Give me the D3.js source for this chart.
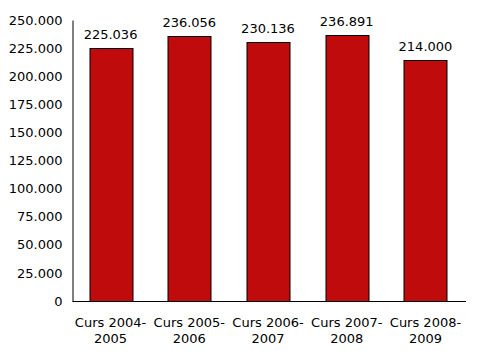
<!DOCTYPE html>
<html>
<head>
<meta charset="utf-8">
<script src="https://cdn.jsdelivr.net/npm/d3@7"></script>
<style>
  body { margin: 0; background: #fff; }
  text { font-family: "DejaVu Sans", Verdana, sans-serif; font-size: 13px; fill: #000; }
</style>
</head>
<body>
<svg id="chart"></svg>
<script>
// chart data
const categories = [['Curs 2004-', '2005'], ['Curs 2005-', '2006'], ['Curs 2006-', '2007'], ['Curs 2007-', '2008'], ['Curs 2008-', '2009']];
const values = [225036, 236056, 230136, 236891, 214000];
const yTicks = [0, 25000, 50000, 75000, 100000, 125000, 150000, 175000, 200000, 225000, 250000];

const width = 493, height = 351;
const margin = {top: 20, right: 27, bottom: 50, left: 72.5};
const innerW = width - margin.left - margin.right;
const innerH = height - margin.top - margin.bottom;

const locale = d3.formatLocale({decimal: ',', thousands: '.', grouping: [3], currency: ['', '']});
const fmt = locale.format(',.0f');

const svg = d3.select('#chart')
    .attr('width', width)
    .attr('height', height);

const chart = svg.append('g')
    .attr('transform', `translate(${margin.left},${margin.top})`);

// bands end a little short of the axis end, like the original
const xScale = d3.scaleBand()
    .domain(d3.range(values.length))
    .range([0, 391])
    .paddingInner(0.454)
    .paddingOuter(0.21);

const yScale = d3.scaleLinear()
    .domain([0, 250000])
    .range([innerH, 0]);

// bars
chart.selectAll('.bar')
    .data(values)
  .join('rect')
    .attr('class', 'bar')
    .attr('x', (d, i) => Math.round(xScale(i)) + 0.5)
    .attr('y', d => Math.round(yScale(d)) + 0.5)
    .attr('width', Math.round(xScale.bandwidth()))
    .attr('height', d => innerH - Math.round(yScale(d)))
    .attr('fill', '#bf0b0b')
    .attr('stroke', '#000')
    .attr('stroke-width', 1);

// value labels
chart.selectAll('.val')
    .data(values)
  .join('text')
    .attr('class', 'val')
    .attr('x', (d, i) => xScale(i) + xScale.bandwidth() / 2)
    .attr('y', d => yScale(d) - 9)
    .attr('text-anchor', 'middle')
    .text(d => fmt(d));

// y axis
const yAxis = d3.axisLeft(yScale)
    .tickValues(yTicks)
    .tickSize(0)
    .tickPadding(10)
    .tickFormat(d => fmt(d));

const yAxisG = chart.append('g').call(yAxis);
yAxisG.select('.domain').attr('stroke', '#000');
yAxisG.selectAll('text')
    .style('font-family', '"DejaVu Sans", Verdana, sans-serif')
    .style('font-size', '13px')
    .attr('fill', '#000');

// x axis line
chart.append('line')
    .attr('x1', 0)
    .attr('x2', innerW)
    .attr('y1', innerH + 0.5)
    .attr('y2', innerH + 0.5)
    .attr('stroke', '#000');

// x labels (two lines)
const xl = chart.selectAll('.xlab')
    .data(categories)
  .join('text')
    .attr('class', 'xlab')
    .attr('text-anchor', 'middle')
    .attr('transform', (d, i) => `translate(${xScale(i) + xScale.bandwidth() / 2},${innerH + 25.5})`);

xl.selectAll('tspan')
    .data(d => d)
  .join('tspan')
    .attr('x', 0)
    .attr('dy', (d, j) => j === 0 ? 0 : 16.7)
    .text(d => d);
</script>
</body>
</html>
